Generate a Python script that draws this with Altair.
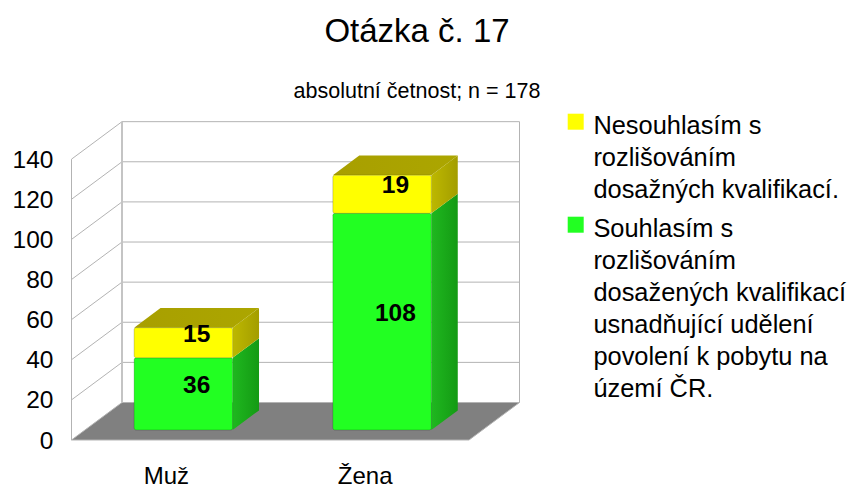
import altair as alt
import pandas as pd

CATEGORIES = ["Muž", "Žena"]
SERIES_LOWER = "Souhlasím s\nrozlišováním\ndosažených kvalifikací\nusnadňující udělení\npovolení k pobytu na\núzemí ČR."
SERIES_UPPER = "Nesouhlasím s\nrozlišováním\ndosažných kvalifikací."
VALUES_LOWER = [36, 108]
VALUES_UPPER = [15, 19]
Y_TICKS = [0, 20, 40, 60, 80, 100, 120, 140]

FONT = "Liberation Sans"
PX_PER_UNIT = 2.006
WIDTH, HEIGHT = 780, 328
FRONT_X0, FRONT_X1 = 3.5, 401.0
DEPTH_DX, DEPTH_DY = 50.5, 37.5
BAR_WIDTH = 98.5
BAR_D0, BAR_D1 = 0.267, 0.79
LABEL_D = 0.53
CAT_W = (FRONT_X1 - FRONT_X0) / len(CATEGORIES)
centers = [FRONT_X0 + CAT_W * (i + 0.5) - 1 for i in range(len(CATEGORIES))]


def px(x, depth=0.0):
    return x + depth * DEPTH_DX


def py(v, depth=0.0):
    return v + depth * DEPTH_DY / PX_PER_UNIT


X = alt.X("x:Q", scale=alt.Scale(domain=[0, WIDTH], nice=False, zero=False),
          title=None,
          axis=alt.Axis(values=centers, domain=False, ticks=False, grid=False,
                        labelExpr=f"datum.value < {CAT_W + FRONT_X0} ? '{CATEGORIES[0]}' : '{CATEGORIES[1]}'",
                        labelFont=FONT, labelFontSize=24, labelColor="#000000",
                        labelOffset=-4, labelPadding=24, labelFlush=False))
Y = alt.Y("y:Q", scale=alt.Scale(domain=[0, HEIGHT / PX_PER_UNIT], nice=False, zero=False),
          title=None,
          axis=alt.Axis(values=Y_TICKS, domain=False, ticks=False, grid=False,
                        labelFont=FONT, labelFontSize=24.5, labelColor="#000000",
                        labelPadding=15, labelOffset=1))
GRID = "#b3b3b3"

# floor
floor = pd.DataFrame([
    {"y": py(0, 0), "x": px(FRONT_X0, 0), "x2": px(FRONT_X1, 0)},
    {"y": py(0, 1), "x": px(FRONT_X0, 1), "x2": px(FRONT_X1, 1)},
])
floor_layer = alt.Chart(floor).mark_area(orient="horizontal", color="#808080").encode(
    y=Y, x=X, x2="x2:Q")

# walls
segs = []
for t in Y_TICKS:
    segs.append({"x": px(FRONT_X0, 1), "x2": px(FRONT_X1, 1), "y": py(t, 1), "y2": py(t, 1)})
    segs.append({"x": px(FRONT_X0, 0), "x2": px(FRONT_X0, 1), "y": py(t, 0), "y2": py(t, 1)})
segs.append({"x": px(FRONT_X0, 0), "x2": px(FRONT_X0, 0), "y": py(0, 0), "y2": py(140, 0)})
segs.append({"x": px(FRONT_X1, 1), "x2": px(FRONT_X1, 1), "y": py(0, 1), "y2": py(140, 1)})
segs.append({"x": px(FRONT_X0, 0), "x2": px(FRONT_X1, 0), "y": py(0, 0), "y2": py(0, 0)})
segs.append({"x": px(FRONT_X1, 0), "x2": px(FRONT_X1, 1), "y": py(0, 0), "y2": py(0, 1)})
grid_layer = alt.Chart(pd.DataFrame(segs)).mark_rule(color=GRID, strokeWidth=1).encode(
    x=X, x2="x2:Q", y=Y, y2="y2:Q")
corner_layer = alt.Chart(pd.DataFrame([
    {"x": px(FRONT_X0, 1), "x2": px(FRONT_X0, 1), "y": py(0, 1), "y2": py(140, 1)}
])).mark_rule(color="#c4c4c4", strokeWidth=2).encode(x=X, x2="x2:Q", y=Y, y2="y2:Q")

# bars
front, side_g, side_y, top, labels = [], [], [], [], []
for i, cat in enumerate(CATEGORIES):
    c = centers[i]
    xa, xb = c - BAR_WIDTH / 2, c + BAR_WIDTH / 2
    lo, up = VALUES_LOWER[i], VALUES_UPPER[i]
    total = lo + up
    front.append({"x": px(xa, BAR_D0), "x2": px(xb, BAR_D0), "y": py(0, BAR_D0), "y2": py(lo, BAR_D0), "series": SERIES_LOWER})
    front.append({"x": px(xa, BAR_D0), "x2": px(xb, BAR_D0), "y": py(lo, BAR_D0), "y2": py(total, BAR_D0), "series": SERIES_UPPER})
    for d in (BAR_D0, BAR_D1):
        side_g.append({"id": cat, "x": px(xb, d), "y": py(0, d), "y2": py(lo, d)})
        side_y.append({"id": cat, "x": px(xb, d), "y": py(lo, d), "y2": py(total, d)})
        top.append({"id": cat, "y": py(total, d), "x": px(xa, d), "x2": px(xb, d)})
    labels.append({"x": px(c, LABEL_D), "y": py(lo / 2, LABEL_D), "t": str(lo)})
    labels.append({"x": px(c, LABEL_D), "y": py(lo + up / 2, LABEL_D), "t": str(up)})


def grad(a, b):
    return alt.Gradient(gradient="linear", x1=0, y1=0, x2=1, y2=0,
                        stops=[alt.GradientStop(offset=0, color=a), alt.GradientStop(offset=1, color=b)])


side_g_layer = alt.Chart(pd.DataFrame(side_g)).mark_area(
    color=grad("#1fb81f", "#149a14")).encode(x=X, y=Y, y2="y2:Q", detail="id:N")
side_y_layer = alt.Chart(pd.DataFrame(side_y)).mark_area(
    color=grad("#bdb800", "#a39d00")).encode(x=X, y=Y, y2="y2:Q", detail="id:N")
top_layer = alt.Chart(pd.DataFrame(top)).mark_area(
    orient="horizontal", color=grad("#a89f00", "#aca600")).encode(
    y=Y, x=X, x2="x2:Q", detail="id:N")
front_layer = alt.Chart(pd.DataFrame(front)).mark_rect(
    cornerRadius=2, strokeWidth=1, stroke="#00000030").encode(
    x=X, x2="x2:Q", y=Y, y2="y2:Q",
    color=alt.Color("series:N",
                    scale=alt.Scale(domain=[SERIES_UPPER, SERIES_LOWER], range=["#ffff00", "#22ff22"]),
                    legend=alt.Legend(title=None, orient="none", legendX=495, legendY=-11,
                                      symbolType="M-1,0 H1 V2 H-1 Z", symbolSize=256, symbolStrokeWidth=0,
                                      labelFont=FONT, labelFontSize=25.4, labelColor="#000000",
                                      labelLimit=400, labelOffset=5, labelBaseline="top",
                                      labelExpr="split(datum.label, '\\n')",
                                      rowPadding=-2)))
text_layer = alt.Chart(pd.DataFrame(labels)).mark_text(
    font=FONT, fontSize=24.5, fontWeight="bold", color="#000000", dy=2).encode(
    x=X, y=Y, text="t:N")

chart = alt.layer(
    floor_layer, grid_layer, corner_layer, side_g_layer, side_y_layer, top_layer, front_layer, text_layer).properties(
    width=WIDTH, height=HEIGHT,
    padding={"left": 60, "top": 104, "right": 0, "bottom": 48},
    autosize=alt.AutoSizeParams(type="none"),
    title=alt.TitleParams(text="Otázka č. 17", subtitle="absolutní četnost; n = 178",
                          font=FONT, fontSize=33, fontWeight="normal", color="#000000",
                          subtitleFont=FONT, subtitleFontSize=21.5, subtitleColor="#000000",
                          subtitlePadding=32, anchor="middle", dx=-41, offset=-1),
)
chart.config = alt.Config(view=alt.ViewConfig(stroke=None),
                          style={"guide-label": {"lineHeight": 32}})

chart.save("out.html", embed_options={"renderer": "svg", "actions": False})
